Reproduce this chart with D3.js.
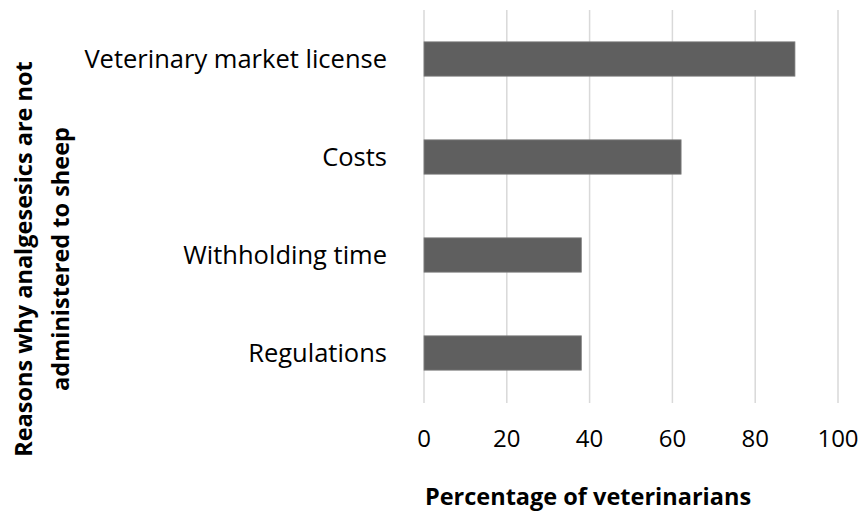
<!DOCTYPE html>
<html><head><meta charset="utf-8">
<script src="https://cdn.jsdelivr.net/npm/d3@7"></script>
<style>body{margin:0;background:#fff}svg{display:block}</style>
</head><body><svg id="c" width="861" height="514"></svg>
<script>
const categories = ["Veterinary market license", "Costs", "Withholding time", "Regulations"];
const values = [89.6, 62.1, 38, 38];
const xTicks = [0, 20, 40, 60, 80, 100];
const xTitle = "Percentage of veterinarians";
const yTitleLines = ["Reasons why analgesesics are not", "administered to sheep"];

const svg = d3.select("#c");
const font = "'Open Sans', Lato, sans-serif";
const x = d3.scaleLinear().domain([0, 100]).range([424, 838]);
const y = d3.scaleBand().domain(categories).range([10, 402]).paddingInner(0.65).paddingOuter(0.325);

svg.append("g").selectAll("line").data(xTicks).join("line")
  .attr("x1", d => x(d)).attr("x2", d => x(d)).attr("y1", 10).attr("y2", 403)
  .attr("stroke", "#d9d9d9").attr("stroke-width", 1.5);

svg.append("g").selectAll("rect").data(categories).join("rect")
  .attr("x", x(0)).attr("y", d => y(d))
  .attr("width", (d, i) => x(values[i]) - x(0)).attr("height", y.bandwidth())
  .attr("fill", "#5f5f5f").attr("stroke", "#7f7f7f").attr("stroke-width", 0.8);

svg.append("g").selectAll("text").data(categories).join("text")
  .attr("x", 387).attr("y", d => y(d) + y.bandwidth() / 2).attr("dy", "0.35em")
  .attr("text-anchor", "end").attr("font-family", font).attr("font-size", 25.5).attr("fill", "#000")
  .text(d => d);

svg.append("g").selectAll("text").data(xTicks).join("text")
  .attr("x", d => x(d)).attr("y", 447).attr("text-anchor", "middle")
  .attr("font-family", font).attr("font-size", 24).attr("fill", "#000").text(d => d);

svg.append("text").attr("x", 588).attr("y", 505).attr("text-anchor", "middle")
  .attr("font-family", font).attr("font-size", 23.5).attr("font-weight", "bold").text(xTitle);

svg.append("g").selectAll("text").data(yTitleLines).join("text")
  .attr("transform", (d, i) => `translate(${32 + i * 37},259) rotate(-90)`)
  .attr("text-anchor", "middle").attr("font-family", font).attr("font-size", 23.5).attr("font-weight", "bold")
  .text(d => d);
</script></body></html>
